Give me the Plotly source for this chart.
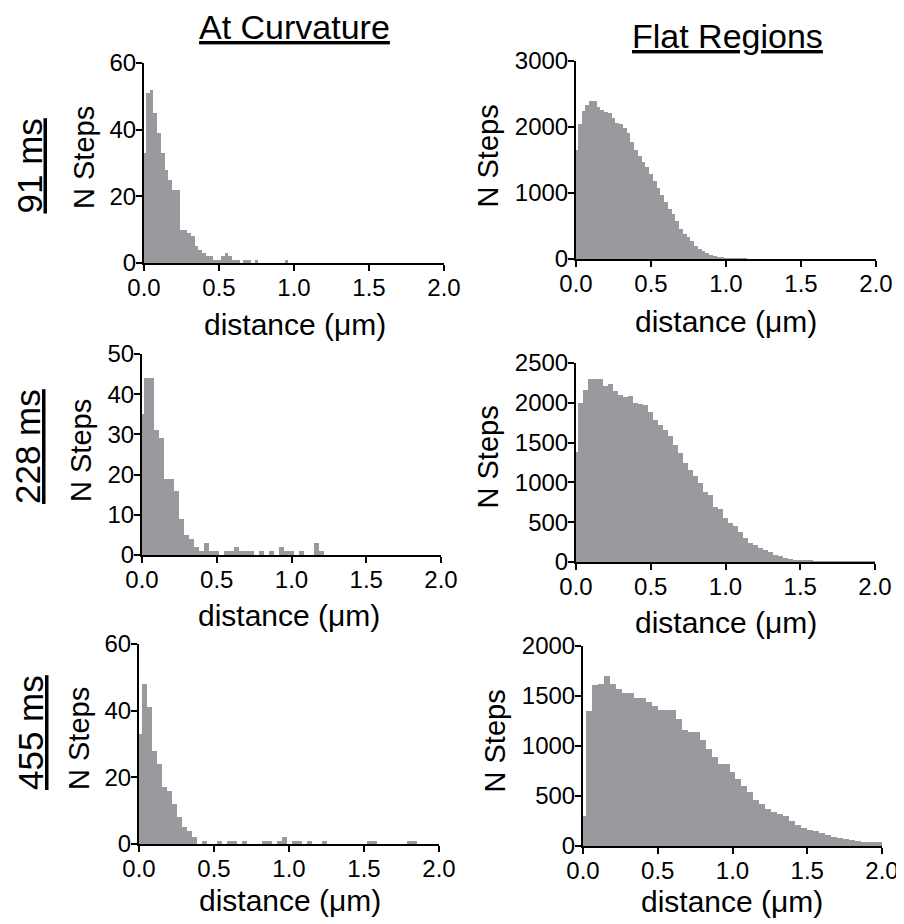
import plotly.graph_objects as go

W, H = 904, 924
PAGE_OFFSET = 8  # the page body margin shifts the figure by this many pixels
FONT = "Liberation Sans, Arial, Helvetica, sans-serif"
GRAY = "#9a9a9e"

# ---------------- data ----------------
DIST_TICKS = [0.0, 0.5, 1.0, 1.5, 2.0]
DIST_TICK_LABELS = ["0.0", "0.5", "1.0", "1.5", "2.0"]

COL_TITLES = ["At Curvature", "Flat Regions"]
ROW_TITLES = ["91 ms", "228 ms", "455 ms"]
X_TITLE = "distance (μm)"
Y_TITLE = "N Steps"

# bin widths (µm) and counts per bin (bin k centred at k*width)
CURV_91_BIN = 0.025
CURV_91_COUNTS = [33, 51, 52, 45, 39, 33, 28, 25, 22, 22, 10, 10, 9, 8, 5, 4, 3, 2, 2, 1,
                  1, 2, 3, 2, 1, 1, 0, 1, 1, 0, 1, 0, 0, 0, 0, 0, 0, 0, 1]

FLAT_91_BIN = 0.025
FLAT_91_COUNTS = [1650, 2050, 2250, 2340, 2400, 2400, 2310, 2260, 2220, 2210, 2140, 2060,
                  2040, 1990, 1910, 1780, 1650, 1560, 1470, 1400, 1290, 1180, 1080, 975,
                  860, 760, 680, 570, 450, 380, 330, 270, 200, 150, 120, 95, 65, 45, 30,
                  20, 12, 8, 5, 2, 1, 1]

CURV_228_BIN = 1 / 30
CURV_228_COUNTS = [35, 44, 44, 31, 29, 19, 19, 16, 9, 5, 4, 2, 1, 3, 1, 1, 0, 1, 1, 2,
                   1, 1, 1, 0, 1, 0, 1, 0, 2, 1, 1, 0, 1, 0, 0, 3, 1]

FLAT_228_BIN = 1 / 30
FLAT_228_COUNTS = [1380, 2000, 2165, 2300, 2300, 2300, 2215, 2230, 2145, 2100, 2070, 2090,
                   2000, 1990, 1970, 1890, 1785, 1725, 1660, 1580, 1475, 1370, 1245, 1160,
                   1075, 990, 885, 845, 690, 665, 555, 490, 450, 375, 300, 240, 210, 175,
                   145, 120, 90, 70, 55, 38, 30, 22, 18, 15, 12, 10, 5, 5, 4, 4, 3, 3, 2,
                   2, 2, 1, 1]

CURV_455_BIN = 1 / 30
CURV_455_COUNTS = [33, 48, 41, 28, 24, 17, 16, 12, 8, 5, 4, 2, 0, 1, 0, 0, 1, 0, 1, 1,
                   0, 1, 0, 0, 0, 1, 1, 0, 1, 2, 0, 1, 1, 0, 1, 0, 0, 1, 0, 0, 0, 0, 0,
                   0, 0, 0, 1, 1, 0, 0, 0, 0, 0, 0, 1, 1]

FLAT_455_BIN = 0.04
FLAT_455_COUNTS = [300, 1350, 1610, 1625, 1700, 1620, 1575, 1530, 1530, 1485, 1485, 1440,
                   1400, 1365, 1365, 1365, 1275, 1165, 1140, 1140, 1060, 970, 890, 820,
                   820, 740, 675, 600, 540, 460, 425, 375, 340, 325, 300, 255, 215, 185,
                   165, 150, 130, 115, 95, 85, 75, 65, 50, 45, 45, 40, 40]

Y_MAX = [60, 3000, 50, 2500, 60, 2000]
Y_STEP = [20, 1000, 10, 500, 20, 500]

# ---------------- layout (screen-pixel boxes of each plot area) ----------------
BOXES = [  # x0, x1, y0(top), y1(bottom)
    (144, 444, 63, 263),
    (576, 876, 61, 259),
    (142, 441, 354, 555),
    (576, 875, 363, 562),
    (139, 439, 644, 844),
    (583, 882, 646, 846),
]


def px_x(px):
    return (px - PAGE_OFFSET) / W


def px_y(py):
    return 1 - (py - PAGE_OFFSET) / H


panels = [
    (CURV_91_BIN, CURV_91_COUNTS),
    (FLAT_91_BIN, FLAT_91_COUNTS),
    (CURV_228_BIN, CURV_228_COUNTS),
    (FLAT_228_BIN, FLAT_228_COUNTS),
    (CURV_455_BIN, CURV_455_COUNTS),
    (FLAT_455_BIN, FLAT_455_COUNTS),
]

fig = go.Figure()
layout_axes = {}
for i, ((bw, counts), box, ymax, ystep) in enumerate(zip(panels, BOXES, Y_MAX, Y_STEP), start=1):
    xs = [k * bw for k in range(len(counts))]
    fig.add_trace(go.Bar(
        x=xs, y=counts, width=bw,
        marker=dict(color=GRAY, line=dict(width=0)),
        xaxis=f"x{i}", yaxis=f"y{i}", showlegend=False, hoverinfo="skip",
    ))
    x0, x1, y0, y1 = box
    common = dict(
        showgrid=False, zeroline=False, showline=True, linecolor="black",
        linewidth=2, ticks="outside", ticklen=6, tickwidth=2, tickcolor="black",
        tickfont=dict(family=FONT, size=24, color="black"), fixedrange=True,
        layer="below traces", automargin=False,
    )
    layout_axes[f"xaxis{i}"] = dict(
        common, domain=[px_x(x0), px_x(x1)], range=[0, 2.0],
        tickvals=DIST_TICKS, ticktext=DIST_TICK_LABELS, anchor=f"y{i}",
        ticklabelstandoff=-4,
    )
    layout_axes[f"yaxis{i}"] = dict(
        common, domain=[px_y(y1), px_y(y0)], range=[0, ymax],
        tickvals=list(range(0, ymax + 1, ystep)), anchor=f"x{i}",
        ticklabelstandoff=-5,
    )

fig.update_layout(
    template="none",
    width=W, height=H, margin=dict(l=0, r=0, t=0, b=0, pad=0, autoexpand=False),
    paper_bgcolor="white", plot_bgcolor="white",
    bargap=0, showlegend=False, **layout_axes,
)


def add_text(text, cx, cy, size, angle=0):
    fig.add_annotation(
        text=text, x=px_x(cx), y=px_y(cy), xref="paper", yref="paper",
        xanchor="center", yanchor="middle", showarrow=False, textangle=angle,
        font=dict(family=FONT, size=size, color="black"),
    )


# column titles
add_text(f"<u>{COL_TITLES[0]}</u>", 294, 27, 34)
add_text(f"<u>{COL_TITLES[1]}</u>", 727.5, 36, 34)

# row titles
add_text(f"<u>{ROW_TITLES[0]}</u>", 28.5, 166, 35, -90)
add_text(f"<u>{ROW_TITLES[1]}</u>", 27.5, 446.5, 35, -90)
add_text(f"<u>{ROW_TITLES[2]}</u>", 30.5, 732.5, 35, -90)

# y axis titles
for cx, cy in [(84, 158), (487.5, 156), (81, 451), (487.5, 457), (79, 739), (494.5, 741)]:
    add_text(Y_TITLE, cx, cy, 29, -90)

# x axis titles
for cx, cy in [(294.5, 324), (726, 321.5), (289, 615.5), (726, 622), (289.5, 900), (731.5, 901.5)]:
    add_text(X_TITLE, cx, cy, 30)

fig.write_html("out.html")
